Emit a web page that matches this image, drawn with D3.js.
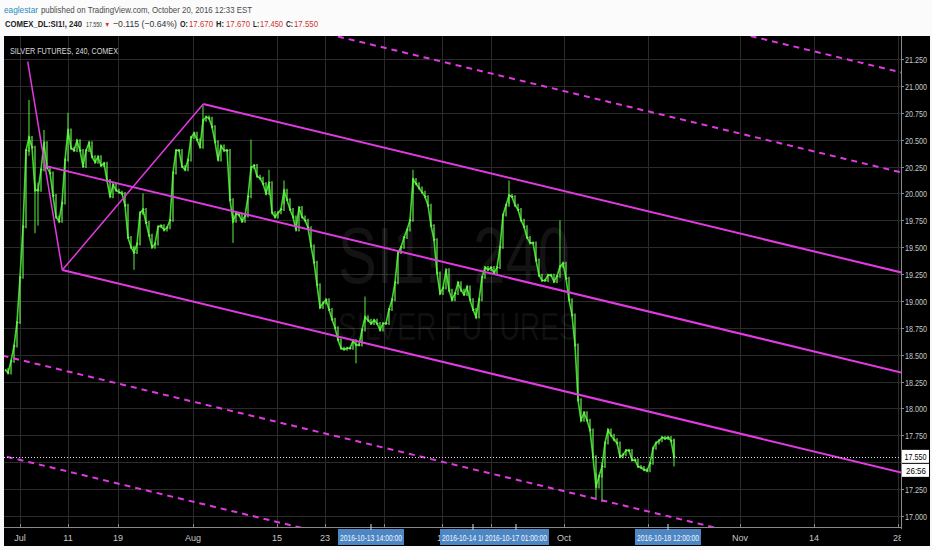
<!DOCTYPE html>
<html><head><meta charset="utf-8">
<script src="https://cdn.jsdelivr.net/npm/d3@7"></script>
<style>html,body{margin:0;padding:0;background:#f7f8f9;} svg{display:block}</style>
</head><body><svg id="c" width="932" height="550"></svg>
<script>
// ---- data ----
const closes = [
18.36,18.33,18.44,18.58,18.80,19.22,19.69,20.40,20.52,20.43,
20.03,20.03,20.22,20.47,20.24,20.19,19.98,19.78,19.74,19.91,
20.31,20.59,20.42,20.40,20.49,20.40,20.25,20.40,20.47,20.34,
20.29,20.34,20.26,20.28,20.12,19.97,20.08,20.03,20.01,20.00,
19.89,19.59,19.50,19.45,19.53,19.82,19.85,19.73,19.61,19.50,
19.53,19.69,19.70,19.66,19.68,19.75,20.19,20.40,20.40,20.25,
20.22,20.31,20.52,20.56,20.50,20.43,20.68,20.71,20.70,20.62,
20.48,20.31,20.44,20.40,20.40,19.94,19.74,19.81,19.80,19.74,
19.79,19.97,20.24,20.26,20.16,20.14,20.09,20.00,20.10,19.82,
19.78,19.82,19.85,20.03,19.94,19.85,19.78,19.66,19.87,19.78,
19.75,19.68,19.51,19.36,19.15,18.94,18.98,19.01,18.92,18.83,
18.75,18.64,18.56,18.55,18.56,18.56,18.63,18.59,18.59,18.73,
18.85,18.82,18.79,18.82,18.79,18.73,18.79,18.79,18.92,19.01,
19.17,19.45,19.50,19.59,19.66,19.75,20.13,20.09,20.05,20.01,
19.97,19.89,19.70,19.57,19.26,19.07,19.12,19.29,19.10,19.01,
19.07,19.17,19.10,19.06,19.13,19.01,18.92,18.85,19.01,19.22,
19.31,19.29,19.31,19.26,19.31,19.50,19.80,19.89,19.98,19.97,
19.89,19.85,19.75,19.69,19.59,19.54,19.54,19.38,19.24,19.19,
19.19,19.24,19.24,19.18,19.23,19.32,19.35,19.21,19.01,18.87,
18.59,18.08,17.89,17.96,17.89,17.80,17.55,17.27,17.37,17.46,
17.68,17.80,17.75,17.71,17.68,17.55,17.57,17.61,17.61,17.52,
17.52,17.46,17.45,17.43,17.42,17.49,17.63,17.68,17.70,17.73,
17.72,17.73,17.70,17.55];
const wickIdx  = [8, 10, 11, 13, 21, 43, 46, 66, 76, 82, 88, 93, 117, 120, 136, 168, 185, 197, 199, 223];
const wickHigh = [20.87,20.10,20.10,20.59,20.75,19.50,20.00,20.82,19.80,20.50,20.22,20.12,18.60,19.04,20.22,20.12,19.75,17.40,17.50,17.72];
const wickLow  = [20.35,19.63,19.70,20.40,20.50,19.29,19.80,20.65,19.54,20.20,20.05,19.90,18.42,18.80,20.00,19.90,19.30,17.15,17.13,17.46];

const priceTicks = [21.25,21.0,20.75,20.5,20.25,20.0,19.75,19.5,19.25,19.0,18.75,18.5,18.25,18.0,17.75,17.5,17.25,17.0];
const priceTickLabels = ["21.250","21.000","20.750","20.500","20.250","20.000","19.750","19.500","19.250","19.000","18.750","18.500","18.250","18.000","17.750","17.500","17.250","17.000"];

// ticks hidden under the highlighted markers keep an empty label
const timeTickIdx = [5, 21, 37.67, 62.67, 90.67, 106.67, 126.33, 145.67, 162, 186.33, 214.33, 245, 269.67, 297.67];
const timeTickLabels = ["Jul","11","19","Aug","15","23","","12","","Oct","","Nov","14","28"];

const markerIdx = [122, 156, 170.33, 221];
const markerLabels = ["2016-10-13 14:00:00","2016-10-14 10:00:00","2016-10-17 01:00:00","2016-10-18 12:00:00"];

const pivotIdx   = [7.57, 19.1, 66.1];
const pivotPrice = [21.225, 19.287, 20.831];
const forkLevels = [-3, -2, -1, 0, 1, 2, 3];

const lastPrice = 17.55;
const countdown = "26:56";

// ---- layout ----
const svg = d3.select("#c");
const plot = {l:4, r:901, t:36, b:527};
const x = d3.scaleLinear().domain([0, 298.67]).range([5, 901]);
const y = d3.scaleLinear().domain([17, 21.25]).range([516, 59]);
const FONT = "'Liberation Sans',Arial,sans-serif";

// header
svg.append("rect").attr("x",0).attr("y",0).attr("width",932).attr("height",36).attr("fill","#fbfbfc");
const h1 = svg.append("g").attr("font-family", FONT).attr("font-size", 9.5);
h1.append("text").attr("x",4).attr("y",13).attr("fill","#2a8bc4").attr("textLength",34).attr("lengthAdjust","spacingAndGlyphs").text("eaglestar");
h1.append("text").attr("x",41).attr("y",13).attr("fill","#4a4a4a").attr("textLength",211).attr("lengthAdjust","spacingAndGlyphs").text("published on TradingView.com, October 20, 2016 12:33 EST");
const h2 = svg.append("g").attr("font-family", FONT).attr("font-size", 9.5);
const hp = [
  {t:"COMEX_DL:SI1!, 240", x:5, w:77, c:"#222", b:true},
  {t:"17.550", x:86, w:16, c:"#333", s:8},
  {t:"\u25BC", x:104.5, w:5.5, c:"#d32f2f", s:7},
  {t:"\u22120.115 (\u22120.64%)", x:113, w:64, c:"#333"},
  {t:"O:", x:180, w:8, c:"#222", b:true},
  {t:"17.670", x:189, w:24, c:"#d0342c"},
  {t:"H:", x:216, w:8, c:"#222", b:true},
  {t:"17.670", x:226, w:24, c:"#d0342c"},
  {t:"L:", x:253, w:6, c:"#222", b:true},
  {t:"17.450", x:260, w:23, c:"#d0342c"},
  {t:"C:", x:286, w:7, c:"#222", b:true},
  {t:"17.550", x:294, w:24, c:"#d0342c"}
];
hp.forEach(p => h2.append("text").attr("x",p.x).attr("y",27).attr("fill",p.c)
  .attr("font-size", p.s || 9.5)
  .attr("font-weight", p.b ? "bold" : "normal").attr("textLength",p.w).attr("lengthAdjust","spacingAndGlyphs").text(p.t));

// chart background
svg.append("rect").attr("x",4).attr("y",36).attr("width",926).attr("height",510).attr("fill","#000");

const defs = svg.append("defs");
defs.append("clipPath").attr("id","pc").append("rect")
  .attr("x",plot.l).attr("y",plot.t).attr("width",plot.r-plot.l).attr("height",plot.b-plot.t);
defs.append("clipPath").attr("id","xc").append("rect")
  .attr("x",plot.l).attr("y",plot.b).attr("width",plot.r-plot.l).attr("height",20);

// grid
const grid = svg.append("g").attr("clip-path","url(#pc)").attr("stroke","#2b2b2b").attr("stroke-width",1);
priceTicks.forEach(v => grid.append("line").attr("x1",plot.l).attr("x2",plot.r)
  .attr("y1",Math.round(y(v))+0.5).attr("y2",Math.round(y(v))+0.5));
timeTickIdx.forEach(i => grid.append("line").attr("y1",plot.t).attr("y2",plot.b)
  .attr("x1",Math.round(x(i))+0.5).attr("x2",Math.round(x(i))+0.5));

// watermark
const wm = svg.append("g").attr("font-family", FONT).attr("fill","#fff").attr("fill-opacity",0.075);
wm.append("text").attr("x",338).attr("y",283).attr("font-size",80).attr("textLength",232).attr("lengthAdjust","spacingAndGlyphs").text("SI1!, 240");
wm.append("text").attr("x",338).attr("y",340).attr("font-size",38).attr("textLength",240).attr("lengthAdjust","spacingAndGlyphs").text("SILVER FUTURES");

// top-left label
svg.append("text").attr("x",10).attr("y",54).attr("font-family",FONT).attr("font-size",9.5)
  .attr("fill","#d8d8d8").attr("textLength",108).attr("lengthAdjust","spacingAndGlyphs").text("SILVER FUTURES, 240, COMEX");

// price series
const pg = svg.append("g").attr("clip-path","url(#pc)");
pg.append("path").datum(closes)
  .attr("d", d3.line().x((d,i)=>x(i)).y(d=>y(d)))
  .attr("fill","none").attr("stroke","#3ed82c").attr("stroke-width",1.6);
pg.selectAll("line.bar").data(closes.slice(1)).join("line").attr("class","bar")
  .attr("x1",(d,i)=>x(i+1)).attr("x2",(d,i)=>x(i+1))
  .attr("y1",(d,i)=>y(Math.max(d, closes[i])) - 1.5).attr("y2",(d,i)=>y(Math.min(d, closes[i])) + 1.5)
  .attr("stroke","#78ff58").attr("stroke-width",1.1);
pg.selectAll("line.tk").data(closes).join("line").attr("class","tk")
  .attr("x1",(d,i)=>x(i)).attr("x2",(d,i)=>x(i)+1.5)
  .attr("y1",d=>y(d)).attr("y2",d=>y(d))
  .attr("stroke","#78ff58").attr("stroke-width",1);
pg.selectAll("line.wk").data(wickIdx).join("line").attr("class","wk")
  .attr("x1",d=>x(d)).attr("x2",d=>x(d))
  .attr("y1",(d,k)=>y(wickHigh[k])).attr("y2",(d,k)=>y(wickLow[k]))
  .attr("stroke","#5cf040").attr("stroke-width",1);

// pitchfork (modified Schiff)
const P = pivotIdx.map((i,k)=>[x(i), y(pivotPrice[k])]);
const start = [(P[0][0]+P[1][0])/2, (P[0][1]+P[1][1])/2];
const mid23 = [(P[1][0]+P[2][0])/2, (P[1][1]+P[2][1])/2];
const dir = [mid23[0]-start[0], mid23[1]-start[1]];
const half = [(P[1][0]-P[2][0])/2, (P[1][1]-P[2][1])/2];
const fg = svg.append("g").attr("clip-path","url(#pc)").attr("stroke","#e23ae2").attr("stroke-width",2).attr("fill","none");
fg.append("line").attr("x1",P[0][0]).attr("y1",P[0][1]).attr("x2",P[1][0]).attr("y2",P[1][1]).attr("stroke-width",1.5);
fg.append("line").attr("x1",P[1][0]).attr("y1",P[1][1]).attr("x2",P[2][0]).attr("y2",P[2][1]).attr("stroke-width",1.5);
forkLevels.forEach(k => {
  const b = k===0 ? start : [mid23[0]+k*half[0], mid23[1]+k*half[1]];
  const t = 20;
  fg.append("line").attr("x1",b[0]).attr("y1",b[1])
    .attr("x2",b[0]+t*dir[0]).attr("y2",b[1]+t*dir[1])
    .attr("stroke-dasharray", Math.abs(k)>=2 ? "6,5" : null);
});

// last price dotted line
svg.append("line").attr("x1",plot.l).attr("x2",plot.r)
  .attr("y1",Math.round(y(lastPrice))+0.5).attr("y2",Math.round(y(lastPrice))+0.5)
  .attr("stroke","#e0e0e0").attr("stroke-dasharray","1,2").attr("stroke-width",1);

// axes lines
svg.append("line").attr("x1",plot.r+0.5).attr("x2",plot.r+0.5).attr("y1",plot.t).attr("y2",plot.b+2).attr("stroke","#8a8a8a");
svg.append("line").attr("x1",plot.l).attr("x2",plot.r).attr("y1",plot.b+0.5).attr("y2",plot.b+0.5).attr("stroke","#8a8a8a");

// price axis
const ya = svg.append("g").attr("font-family",FONT).attr("font-size",9).attr("fill","#c8c8c8");
priceTicks.forEach((v,k) => {
  if (v === 17.5) return;
  const yy = Math.round(y(v))+0.5;
  ya.append("line").attr("x1",plot.r).attr("x2",plot.r+3).attr("y1",yy).attr("y2",yy).attr("stroke","#8a8a8a");
  ya.append("text").attr("x",905).attr("y",yy).attr("dy","0.35em")
    .attr("textLength",22).attr("lengthAdjust","spacingAndGlyphs").text(priceTickLabels[k]);
});

// time axis
const xa = svg.append("g").attr("font-family",FONT).attr("font-size",9).attr("fill","#c8c8c8");
timeTickIdx.forEach((i,k) => {
  const xx = Math.round(x(i))+0.5;
  xa.append("line").attr("x1",xx).attr("x2",xx).attr("y1",plot.b-3).attr("y2",plot.b).attr("stroke","#8a8a8a");
});
xa.append("g").attr("clip-path","url(#xc)").selectAll("text")
  .data(timeTickIdx.filter((d,k)=>timeTickLabels[k] !== "")).join("text")
  .attr("x",d=>x(d)).attr("y",541).attr("text-anchor","middle")
  .text(d=>timeTickLabels[timeTickIdx.indexOf(d)]);

// highlighted time markers (each later box drawn over the earlier)
markerIdx.forEach((i,k) => {
  const cx = x(i);
  const g = svg.append("g");
  const next = markerIdx[k+1] !== undefined ? x(markerIdx[k+1]) - 33 : 932;
  const visW = Math.min(66, next - (cx-33));
  const cid = "mk"+k;
  defs.append("clipPath").attr("id",cid).append("rect").attr("x",cx-33).attr("y",527).attr("width",visW).attr("height",20);
  g.append("rect").attr("x",cx-33).attr("y",529).attr("width",66).attr("height",16).attr("fill","#4d86c4");
  g.append("line").attr("x1",cx).attr("x2",cx).attr("y1",plot.b-3).attr("y2",plot.b+3).attr("stroke","#cfe0f2");
  g.append("g").attr("clip-path","url(#"+cid+")").append("text").attr("x",cx).attr("y",541)
    .attr("text-anchor","middle").attr("font-family",FONT).attr("font-size",8.5)
    .attr("fill","#f2f6fb").attr("textLength",62).attr("lengthAdjust","spacingAndGlyphs").text(markerLabels[k]);
});

// last price label + countdown
const ly = y(lastPrice);
svg.append("rect").attr("x",902).attr("y",ly-7).attr("width",27).attr("height",13).attr("fill","#fff");
svg.append("text").attr("x",904.5).attr("y",ly).attr("dy","0.35em")
  .attr("font-family",FONT).attr("font-size",9).attr("fill","#000")
  .attr("textLength",22).attr("lengthAdjust","spacingAndGlyphs").text(lastPrice.toFixed(3));
svg.append("rect").attr("x",902).attr("y",ly+7).attr("width",27).attr("height",13).attr("fill","#fff");
svg.append("text").attr("x",906).attr("y",ly+13.5).attr("dy","0.35em")
  .attr("font-family",FONT).attr("font-size",9).attr("fill","#000")
  .attr("textLength",20).attr("lengthAdjust","spacingAndGlyphs").text(countdown);
</script></body></html>
